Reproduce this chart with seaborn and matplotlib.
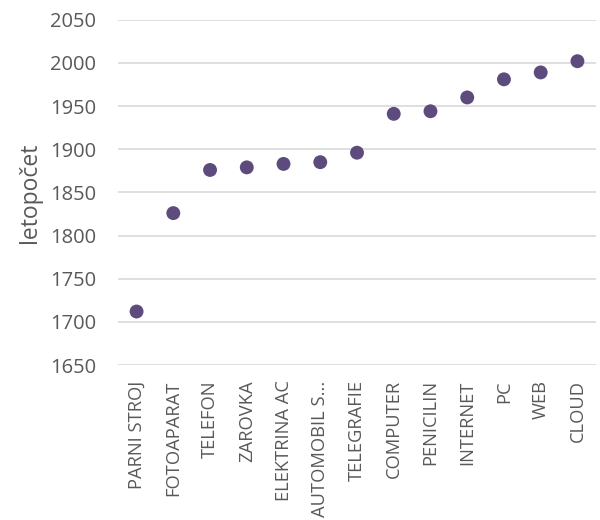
import matplotlib
matplotlib.use("Agg")
import matplotlib.pyplot as plt
import seaborn as sns
import pandas as pd

vynalezy = ["PARNI STROJ", "FOTOAPARAT", "TELEFON", "ZAROVKA", "ELEKTRINA AC",
            "AUTOMOBIL S...", "TELEGRAFIE", "COMPUTER", "PENICILIN", "INTERNET",
            "PC", "WEB", "CLOUD"]
roky = [1712, 1826, 1876, 1879, 1883, 1885, 1896, 1941, 1944, 1960, 1981, 1989, 2002]
yticks = [1650, 1700, 1750, 1800, 1850, 1900, 1950, 2000, 2050]

df = pd.DataFrame({"vynalez": vynalezy, "rok": roky})

sns.set_theme(style="white")
plt.rcParams["font.family"] = ["Open Sans", "DejaVu Sans"]
text_color = "#595959"

fig = plt.figure(figsize=(6, 5.2), dpi=100)
ax = fig.add_axes([0.197, 0.298, 0.796, 0.664])

sns.scatterplot(data=df, x="vynalez", y="rok", ax=ax, color="#5E4B7E",
                s=100, edgecolor="none", zorder=3)

ax.set_ylim(1650, 2050)
ax.set_xlim(-0.5, len(vynalezy) - 0.5)
ax.set_yticks(yticks)
ax.yaxis.grid(True, color="#D9D9D9", linewidth=1.2)
ax.xaxis.grid(False)
for s in ax.spines.values():
    s.set_visible(False)

ax.tick_params(axis="both", length=0, colors=text_color)
ax.tick_params(axis="x", pad=11, labelsize=13.2)
ax.tick_params(axis="y", pad=16, labelsize=14.5)
plt.setp(ax.get_xticklabels(), rotation=90)
ax.set_xlabel("")
ax.set_ylabel("letopočet", color=text_color, fontsize=16.5, labelpad=6)

fig.savefig("out.png", dpi=100, facecolor="white")
